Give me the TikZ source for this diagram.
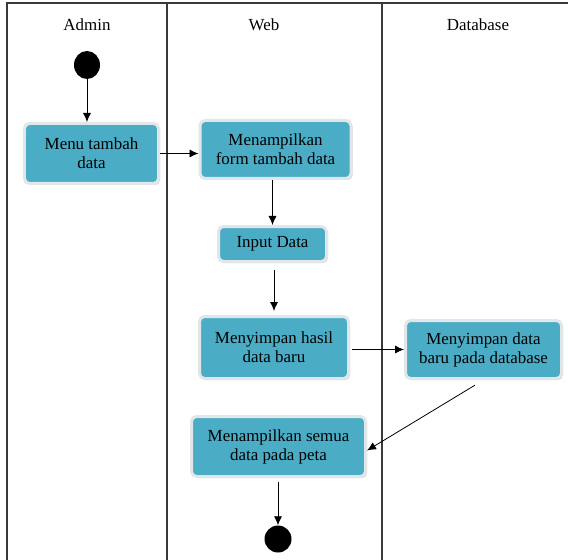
\documentclass[tikz,border=0pt]{standalone}
\usepackage{fontspec}
\setmainfont{Liberation Serif}
\usetikzlibrary{arrows.meta,shadows,shapes.geometric}
\definecolor{boxfill}{HTML}{4BACC6}
\definecolor{boxedge}{HTML}{E1E6E8}
\definecolor{lanecol}{HTML}{3A3A3A}
\tikzset{
  actbox/.style={rounded corners=5bp, fill=boxfill, draw=boxedge, line width=3bp,
    align=center, inner sep=2bp, font=\fontsize{17}{19}\selectfont,
    drop shadow={opacity=0.35, shadow xshift=1.5bp, shadow yshift=-1.5bp}},
  dot/.style={fill=black, draw=none, inner sep=0pt},
  flow/.style={draw=black, line width=0.8bp, -{Latex[length=9bp,width=8bp]}},
  lane/.style={draw=lanecol, line width=1.3bp},
  lanelabel/.style={font=\fontsize{17}{19}\selectfont, anchor=base}
}
\begin{document}
\begin{tikzpicture}[x=1bp,y=-1bp]
\useasboundingbox (0,0) rectangle (568,560);
% swimlanes
\coordinate (tl) at (7,3);
\coordinate (tr) at (568,3);
\coordinate (bl) at (7,560);
\coordinate (d1t) at (167,3);
\coordinate (d1b) at (167,560);
\coordinate (d2t) at (382,3);
\coordinate (d2b) at (382,560);
\draw[lane] (bl) -- (tl) -- (tr);
\draw[lane] (d1t) -- (d1b);
\draw[lane] (d2t) -- (d2b);
\node[lanelabel] (ladmin) at (87,31) {Admin};
\node[lanelabel] (lweb) at (264,31) {Web};
\node[lanelabel] (ldb) at (478,31) {Database};
% nodes
\node[dot, ellipse, minimum width=26bp, minimum height=28bp] (start) at (87,65) {};
\node[actbox, minimum width=134bp, minimum height=60bp] (menu) at (91.5,153.5) {Menu tambah\\data};
\node[actbox, minimum width=151bp, minimum height=58bp] (form) at (275.5,149.5) {Menampilkan\\form tambah data};
\node[actbox, minimum width=108bp, minimum height=35bp] (input) at (272.5,244) {Input Data};
\node[actbox, minimum width=149bp, minimum height=62bp] (hasil) at (274,347.5) {Menyimpan hasil\\data baru};
\node[actbox, minimum width=156bp, minimum height=58bp] (db) at (483.5,349.5) {Menyimpan data\\baru pada database};
\node[actbox, minimum width=174bp, minimum height=60bp] (semua) at (278.5,446.5) {Menampilkan semua\\data pada peta};
\node[dot, circle, minimum size=27bp] (end) at (278,539) {};
% connectors
\draw[flow] (start) -- (start |- menu.north);
\draw[flow] (menu.east) -- (menu.east -| form.west);
\draw[flow] (input.north |- form.south) -- (input.north);
\draw[flow, shorten <=7bp, shorten >=4bp] (hasil.north |- input.south) -- (hasil.north);
\draw[flow, shorten <=2bp] (hasil.east |- db.west) -- (db.west);
\draw[flow, shorten <=10bp] (db.south) -- ([yshift=-4bp]semua.east);
\draw[flow, shorten <=4bp] (semua.south -| end.north) -- (end.north);
\end{tikzpicture}
\end{document}
